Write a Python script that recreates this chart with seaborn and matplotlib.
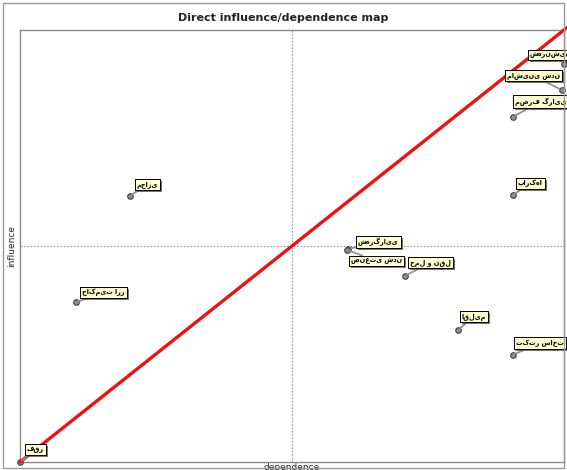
import matplotlib
matplotlib.use("Agg")
import matplotlib.pyplot as plt
import matplotlib.patheffects as pe
import seaborn as sns
import pandas as pd

# ---- data ----
variables = ["فقر", "حاکمیت ارز", "مجازی", "شهرگرایی", "صنعتی شدن", "حمل و نقل",
             "اقلیم", "تکثر ساخت", "پارکها", "مصرف گرایی", "ماشینی شدن", "شهرنشینی"]
dependence = [0.0, 10.3, 20.2, 60.3, 60.1, 70.8, 80.5, 90.6, 90.6, 90.6, 99.6, 100.0]
influence = [0.0, 37.0, 61.6, 49.3, 49.1, 43.1, 30.6, 24.8, 61.8, 79.9, 86.1, 92.1]

title = "Direct influence/dependence map"
xlabel = "dependence"
ylabel = "influence"

# ---- layout: label offsets in pixels (dx, dy, ha, va) ----
offsets = [(7, 9, "left", "bottom"), (6, 6, "left", "bottom"), (7, 8, "left", "bottom"),
           (10, 3, "left", "bottom"), (4, -8, "left", "top"), (5, 10, "left", "bottom"),
           (4, 10, "left", "bottom"), (3, 8, "left", "bottom"), (5, 8, "left", "bottom"),
           (2, 11, "left", "bottom"), (-2, 11, "right", "bottom"), (-34, 6, "left", "bottom")]

df = pd.DataFrame({"variable": variables, "dependence": dependence, "influence": influence})

sns.set_style("white")
plt.rcParams["font.family"] = ["DejaVu Sans"]

fig = plt.figure(figsize=(5.67, 4.70), dpi=100)
ax = fig.add_axes([20 / 567, 8 / 470, 544 / 567, 432 / 470])

# outer frame of the window
fig.patches.append(plt.Rectangle((3 / 567, 2 / 470), 561 / 567, 465 / 470, transform=fig.transFigure,
                                 fill=False, ec="#9a9a9a", lw=1.0))

ax.set_xlim(0, 100)
ax.set_ylim(0, 100)
ax.axvline(50, color="#9a9a9a", ls=(0, (1.5, 1.5)), lw=0.8, zorder=1)
ax.axhline(50, color="#9a9a9a", ls=(0, (1.5, 1.5)), lw=0.8, zorder=1)

sns.scatterplot(data=df, x="dependence", y="influence", ax=ax, s=16, color="#909090",
                edgecolor="#404040", linewidth=0.8, zorder=4, clip_on=False, legend=False)

for name, x, y, (dx, dy, ha, va) in zip(variables, dependence, influence, offsets):
    ann = ax.annotate(name, (x, y), xytext=(dx, dy), textcoords="offset pixels",
                      ha=ha, va=va, fontsize=4.7, fontweight="bold", color="black",
                      bbox=dict(boxstyle="square,pad=0.3", fc="#ffffd0", ec="black", lw=0.7),
                      arrowprops=dict(arrowstyle="-", color="#909090", lw=1.3,
                                      shrinkA=0, shrinkB=2),
                      zorder=6, annotation_clip=False)
    ann.get_bbox_patch().set_path_effects([pe.withSimplePatchShadow(offset=(1.5, -1.5),
                                                                     shadow_rgbFace="#555555", alpha=0.8),
                                           pe.Normal()])

# diagonal reference line
ax.plot([0, 101], [0, 101], color="#ee1111", lw=2.4, zorder=5, clip_on=False)

for s in ax.spines.values():
    s.set_color("#8a8a8a")
    s.set_linewidth(1.0)
ax.set_xticks([])
ax.set_yticks([])
ax.set_xlabel(xlabel, fontsize=6.5, labelpad=1)
ax.set_ylabel(ylabel, fontsize=6.5, labelpad=3)
fig.text(283 / 567, 1 - 18 / 470, title, ha="center", va="center", fontsize=8,
         fontweight="bold", color="#222222")

fig.savefig("out.png", dpi=100)
